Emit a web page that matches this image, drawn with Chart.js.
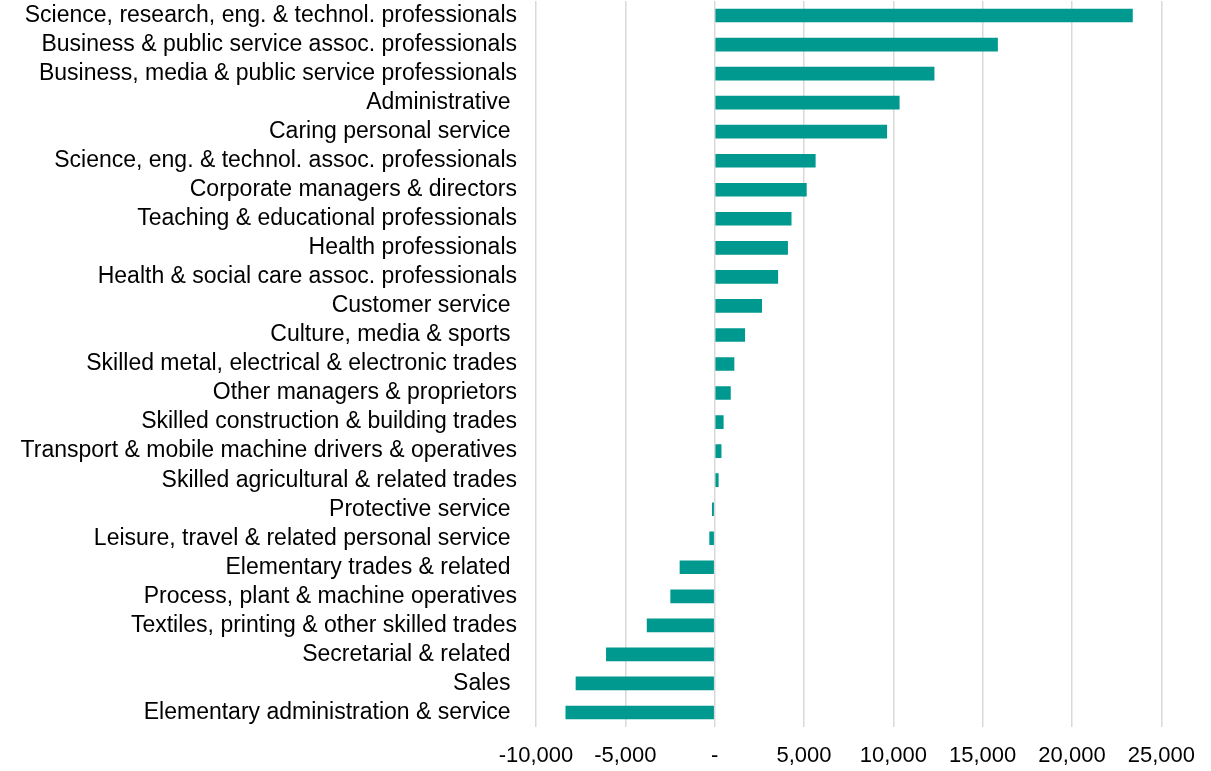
<!DOCTYPE html>
<html>
<head>
<meta charset="utf-8">
<script src="https://cdn.jsdelivr.net/npm/chart.js@4/dist/chart.umd.min.js"></script>
<style>
  html, body { margin: 0; padding: 0; background: #ffffff; }
  #wrap { width: 1211px; height: 771px; }
</style>
</head>
<body>
<div id="wrap"><canvas id="grafico"></canvas></div>
<script>
// categorias (de cima para baixo)
const categorias = [
    "Science, research, eng. & technol. professionals",
    "Business & public service assoc. professionals",
    "Business, media & public service professionals",
    "Administrative ",
    "Caring personal service ",
    "Science, eng. & technol. assoc. professionals",
    "Corporate managers & directors",
    "Teaching & educational professionals",
    "Health professionals",
    "Health & social care assoc. professionals",
    "Customer service ",
    "Culture, media & sports ",
    "Skilled metal, electrical & electronic trades",
    "Other managers & proprietors",
    "Skilled construction & building trades",
    "Transport & mobile machine drivers & operatives",
    "Skilled agricultural & related trades",
    "Protective service ",
    "Leisure, travel & related personal service ",
    "Elementary trades & related ",
    "Process, plant & machine operatives",
    "Textiles, printing & other skilled trades",
    "Secretarial & related ",
    "Sales ",
    "Elementary administration & service "
];

// variação
const valores = [
    23400, 15850, 12300, 10350, 9650, 5650, 5150, 4300, 4100, 3550,
    2650, 1700, 1100, 900, 500, 380, 220, -150, -300, -1960,
    -2480, -3800, -6080, -7780, -8350
];

// eixo x
const eixoMin = -10000;
const eixoMax = 25000;
const eixoPasso = 5000;

const corBarra = '#009990';
const fonte = "'Liberation Sans', Arial, sans-serif";

function formatarTick(v) {
    if (v === 0) return '-';
    return v.toLocaleString('en-US');
}

const ctx = document.getElementById('grafico').getContext('2d');
new Chart(ctx, {
    type: 'bar',
    data: {
        labels: categorias,
        datasets: [{
            data: valores,
            backgroundColor: corBarra,
            borderWidth: 0,
            barPercentage: 0.94,
            categoryPercentage: 0.5
        }]
    },
    options: {
        indexAxis: 'y',
        responsive: true,
        maintainAspectRatio: false,
        animation: false,
        layout: { padding: { top: 1, right: 49, bottom: 0, left: 0 } },
        plugins: {
            legend: { display: false },
            tooltip: { enabled: false }
        },
        scales: {
            x: {
                min: eixoMin,
                max: eixoMax,
                afterFit: axis => { axis.height = 44; },
                ticks: {
                    stepSize: eixoPasso,
                    callback: v => formatarTick(v),
                    color: '#000000',
                    font: { family: fonte, size: 22 },
                    padding: 16,
                    maxRotation: 0
                },
                grid: { color: '#d9d9d9', lineWidth: 1.5, drawTicks: false },
                border: { display: false }
            },
            y: {
                afterFit: axis => {
                    axis.width = 536;
                    axis.paddingTop = 0;
                    axis.paddingBottom = 0;
                },
                ticks: {
                    color: '#000000',
                    font: { family: fonte, size: 23 },
                    padding: 19,
                    autoSkip: false
                },
                grid: { display: false, drawTicks: false },
                border: { display: false }
            }
        }
    }
});
</script>
</body>
</html>
